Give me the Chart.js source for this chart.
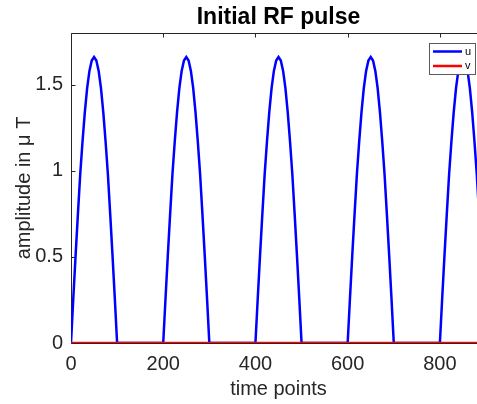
<!DOCTYPE html>
<html lang="en">
<head>
<meta charset="UTF-8">
<title>Initial RF pulse</title>
<script src="https://cdn.jsdelivr.net/npm/chart.js@4/dist/chart.umd.min.js"></script>
<style>
  * { box-sizing: border-box; margin: 0; padding: 0; }
  html, body { width: 477px; height: 404px; overflow: hidden; background: #fff; }
  .wrap { width: 486px; height: 404px; position: relative; }
</style>
</head>
<body>
<div class="wrap"><canvas id="chart"></canvas></div>
<script>
// u: five half-sine pulses, v stays at zero
const timePoints = [
  0, 5, 10, 15, 20, 25, 30, 35, 40, 45, 50, 55, 60, 65, 70, 75, 80, 85, 90, 95, 100,
  200, 205, 210, 215, 220, 225, 230, 235, 240, 245, 250, 255, 260, 265, 270, 275, 280, 285, 290, 295, 300,
  400, 405, 410, 415, 420, 425, 430, 435, 440, 445, 450, 455, 460, 465, 470, 475, 480, 485, 490, 495, 500,
  600, 605, 610, 615, 620, 625, 630, 635, 640, 645, 650, 655, 660, 665, 670, 675, 680, 685, 690, 695, 700,
  800, 805, 810, 815, 820, 825, 830, 835, 840, 845, 850, 855, 860, 865, 870, 875, 880, 885, 890, 895, 900
]
const uValues = [
  0, 0.26, 0.51, 0.75, 0.98, 1.17, 1.34, 1.48, 1.58, 1.64, 1.66, 1.64, 1.58, 1.48, 1.34, 1.17, 0.98, 0.75, 0.51, 0.26, 0,
  0, 0.26, 0.51, 0.75, 0.98, 1.17, 1.34, 1.48, 1.58, 1.64, 1.66, 1.64, 1.58, 1.48, 1.34, 1.17, 0.98, 0.75, 0.51, 0.26, 0,
  0, 0.26, 0.51, 0.75, 0.98, 1.17, 1.34, 1.48, 1.58, 1.64, 1.66, 1.64, 1.58, 1.48, 1.34, 1.17, 0.98, 0.75, 0.51, 0.26, 0,
  0, 0.26, 0.51, 0.75, 0.98, 1.17, 1.34, 1.48, 1.58, 1.64, 1.66, 1.64, 1.58, 1.48, 1.34, 1.17, 0.98, 0.75, 0.51, 0.26, 0,
  0, 0.26, 0.51, 0.75, 0.98, 1.17, 1.34, 1.48, 1.58, 1.64, 1.66, 1.64, 1.58, 1.48, 1.34, 1.17, 0.98, 0.75, 0.51, 0.26, 0
]
const vTimePoints = [0, 900]
const vValues = [0, 0]
const seriesLabels = ['u', 'v']
const xTicks = [0, 200, 400, 600, 800]
const yTicks = [0, 0.5, 1, 1.5]

const AXIS = '#262626'
const FONT = '"Liberation Sans", Arial, sans-serif'
const BLUE = '#0000ff'
const RED = '#ff0000'

const toPoints = (xs, ys) => xs.map((x, i) => ({ x, y: ys[i] }))

// matlab style box: left/top/bottom lines + inward ticks
const matlabAxes = {
  id: 'matlabAxes',
  beforeDatasetsDraw(chart) {
    const { ctx, chartArea: a, scales: { x, y } } = chart
    const L = Math.round(a.left) + 0.5, T = Math.round(a.top) + 0.5
    const B = Math.round(a.bottom) + 0.5, R = Math.round(a.right) - 0.5
    ctx.save()
    ctx.strokeStyle = AXIS
    ctx.lineWidth = 1
    ctx.beginPath()
    ctx.moveTo(R, T); ctx.lineTo(L, T); ctx.lineTo(L, B); ctx.lineTo(R, B)
    xTicks.forEach(v => {
      const px = Math.round(x.getPixelForValue(v)) + 0.5
      ctx.moveTo(px, B); ctx.lineTo(px, B - 4)
      ctx.moveTo(px, T); ctx.lineTo(px, T + 4)
    })
    yTicks.forEach(v => {
      const py = Math.round(y.getPixelForValue(v)) + 0.5
      ctx.moveTo(L, py); ctx.lineTo(L + 4, py)
    })
    ctx.stroke()
    ctx.restore()
  },
  afterDraw(chart) {
    // legend box, top right inside the axes
    const { ctx } = chart
    const colors = chart.data.datasets.map(d => d.borderColor)
    ctx.save()
    ctx.fillStyle = '#fff'
    ctx.fillRect(429.5, 43.5, 46, 31)
    ctx.strokeStyle = '#5a5a5a'
    ctx.lineWidth = 1
    ctx.strokeRect(429.5, 43.5, 46, 31)
    ctx.font = '11px ' + FONT
    ctx.textBaseline = 'middle'
    seriesLabels.forEach((lab, i) => {
      const ly = 51.5 + i * 14.5
      ctx.strokeStyle = colors[i]
      ctx.lineWidth = 2.5
      ctx.beginPath(); ctx.moveTo(433, ly); ctx.lineTo(462, ly); ctx.stroke()
      ctx.fillStyle = '#000'
      ctx.fillText(lab, 465, ly)
    })
    ctx.restore()
  }
}

new Chart(document.getElementById('chart'), {
  type: 'line',
  data: {
    datasets: [
      { label: seriesLabels[0], data: toPoints(timePoints, uValues), borderColor: BLUE, borderWidth: 2.5, pointRadius: 0, tension: 0, order: 1 },
      { label: seriesLabels[1], data: toPoints(vTimePoints, vValues), borderColor: RED, borderWidth: 2.5, pointRadius: 0, tension: 0, order: 0 }
    ]
  },
  options: {
    responsive: true, maintainAspectRatio: false, animation: false,
    layout: { padding: 0 },
    plugins: {
      legend: { display: false },
      tooltip: { enabled: false },
      title: {
        display: true, text: 'Initial RF pulse', fullSize: false,
        color: '#000', font: { family: FONT, size: 23, weight: 'bold', lineHeight: 1.2 },
        padding: { top: 4, bottom: 1.4 }
      }
    },
    scales: {
      x: {
        type: 'linear', min: 0, max: 900,
        grid: { display: false, drawTicks: false }, border: { display: false },
        afterBuildTicks: s => { s.ticks = xTicks.map(value => ({ value })) },
        afterFit: s => { s.height = 61 },
        ticks: { color: AXIS, padding: 9, maxRotation: 0, font: { family: FONT, size: 20 } },
        title: { display: true, text: 'time points', color: AXIS, font: { family: FONT, size: 20 }, padding: { top: 0, bottom: 3 } }
      },
      y: {
        min: 0, max: 1.8,
        grid: { display: false, drawTicks: false }, border: { display: false },
        afterBuildTicks: s => { s.ticks = yTicks.map(value => ({ value })) },
        afterFit: s => { s.width = 71 },
        ticks: { color: AXIS, padding: 8, font: { family: FONT, size: 20 }, callback: v => String(v) },
        title: { display: true, text: 'amplitude in \u03bc T', color: AXIS, font: { family: FONT, size: 20 }, padding: { top: 12, bottom: 0 } }
      }
    }
  },
  plugins: [matlabAxes]
})
</script>
</body>
</html>
